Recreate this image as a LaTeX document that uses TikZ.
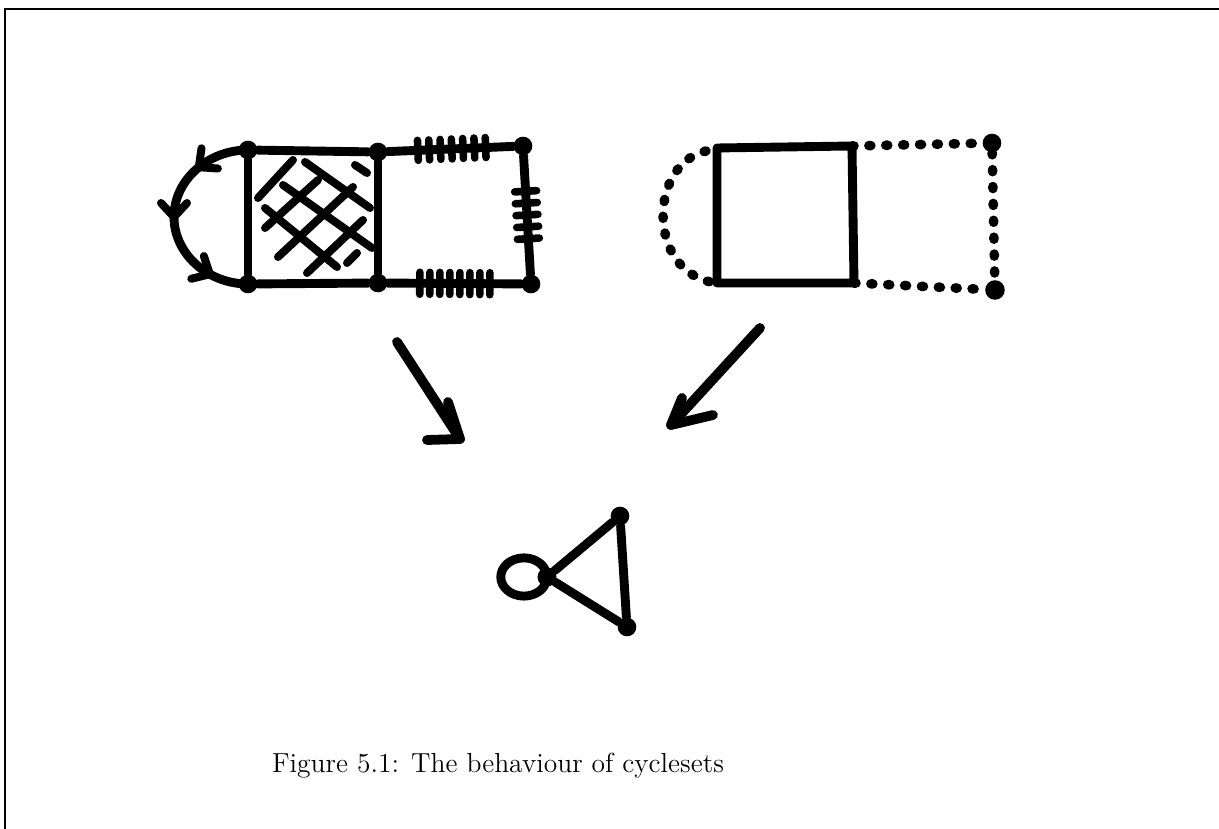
\documentclass[tikz,border=0pt]{standalone}
\usetikzlibrary{decorations.markings,calc}
\begin{document}
\begin{tikzpicture}[x=0.45pt,y=-0.45pt,
  marker/.style={line width=4pt, line cap=round, line join=round},
  bigarrow/.style={line width=4.4pt, line cap=round, line join=round},
  hatch/.style={line width=3.6pt, line cap=round},
  dot/.style={circle, fill, inner sep=0pt, minimum size=8.4pt},
  dotline/.style={line width=4.3pt, line cap=round, dash pattern=on 0.9pt off 6.7pt},
  tickline/.style={line width=3.4pt, line cap=round},
  vbarb/.style={line width=3.6pt, line cap=round, line join=round},
  frame/.style={line width=0.9pt},
  caption/.style={font=\fontsize{12.4}{15}\selectfont}]
\useasboundingbox (0,0) rectangle (1219,829);
% frame
\coordinate (f1) at (5,829); \coordinate (f2) at (5,9); \coordinate (f3) at (1219,9);
\draw[frame] (f1) -- (f2) -- (f3);

% ---------- left figure ----------
\node[dot] (A) at (248,150) {};
\node[dot] (B) at (378,152) {};
\node[dot] (C) at (523,146) {};
\node[dot] (D) at (248,284) {};
\node[dot] (E) at (378,283) {};
\node[dot] (F) at (531,284) {};
\draw[marker] (A) -- (B);
\draw[marker] (B) -- (E);
\draw[marker] (E) -- (D);
\draw[marker] (D) -- (A);
% hatching
\draw[hatch] (258,198) -- (293,160);
\draw[hatch] (265,228) -- (318,180);
\draw[hatch] (278,257) -- (353,187);
\draw[hatch] (307,273) -- (363,220);
\draw[hatch] (347,263) -- (357,253);
\draw[hatch] (305,162) -- (370,208);
\draw[hatch] (283,185) -- (372,248);
\draw[hatch] (265,208) -- (337,267);
\draw[hatch] (355,165) -- (367,173);
% ticked edges
\draw[marker, postaction={decorate}, decoration={markings,
  mark=between positions 0.24 and 0.8 step 0.09 with {\draw[tickline] (0,-10) -- (0,10);}}] (B) -- (C);
\draw[marker, postaction={decorate}, decoration={markings,
  mark=between positions 0.3 and 0.76 step 0.1 with {\draw[tickline] (0,-11) -- (0,11);}}] (C) -- (F);
\draw[marker, postaction={decorate}, decoration={markings,
  mark=between positions 0.24 and 0.8 step 0.075 with {\draw[tickline] (0,-11) -- (0,11);}}] (E) -- (F);
% arc with arrows
\coordinate (AM) at (174,217);
\draw[marker, postaction={decorate}, decoration={markings,
  mark=at position 0.24 with {\draw[vbarb] (-14,-13) -- (0,0) -- (-14,13);},
  mark=at position 0.5 with {\draw[vbarb] (-14,-13) -- (0,0) -- (-14,13);},
  mark=at position 0.82 with {\draw[vbarb] (-14,-13) -- (0,0) -- (-14,13);}}]
  (A.center) .. controls (208,150) and (174,180) .. (AM)
  .. controls (174,254) and (208,284) .. (D.center);

% ---------- right figure ----------
\coordinate (P) at (717,148);
\coordinate (Q) at (852,146);
\coordinate (R) at (854,283);
\coordinate (S) at (717,283);
\coordinate (P0) at (706,151);
\node[dot] (G) at (992,143) {};
\node[dot, minimum size=8.8pt] (H) at (995,290) {};
\draw[marker] (P) -- (Q) -- (R) -- (S) -- cycle;
\draw[dotline] (Q) -- (G);
\draw[dotline] (G) -- (H);
\draw[dotline] (R) -- (H);
\draw[dotline] (P0) .. controls (647,165) and (647,275) .. (S);

% ---------- arrows ----------
\coordinate (L1) at (397,342); \coordinate (L2) at (460,439);
\draw[bigarrow] (L1) -- (L2);
\draw[bigarrow] ($(L2)+(-12,-37)$) -- (L2) -- ++(-33,1);
\coordinate (R1) at (760,328); \coordinate (R2) at (671,425);
\draw[bigarrow] (R1) -- (R2);
\draw[bigarrow] ($(R2)+(11,-27)$) -- (R2) -- ++(42,-10);

% ---------- triangle ----------
\node[dot] (T1) at (620,516) {};
\node[dot] (T2) at (547,577) {};
\node[dot] (T3) at (627,627) {};
\draw[marker] (T1) -- (T2);
\draw[marker] (T2) -- (T3);
\draw[marker] (T3) -- (T1);
\draw[marker] (T2.center) arc[start angle=0, end angle=360, x radius=10.4pt, y radius=8.6pt];
\node[dot] at (T2) {};

% caption
\node[caption] (cap) at (498,766) {Figure 5.1: The behaviour of cyclesets};
\end{tikzpicture}
\end{document}
